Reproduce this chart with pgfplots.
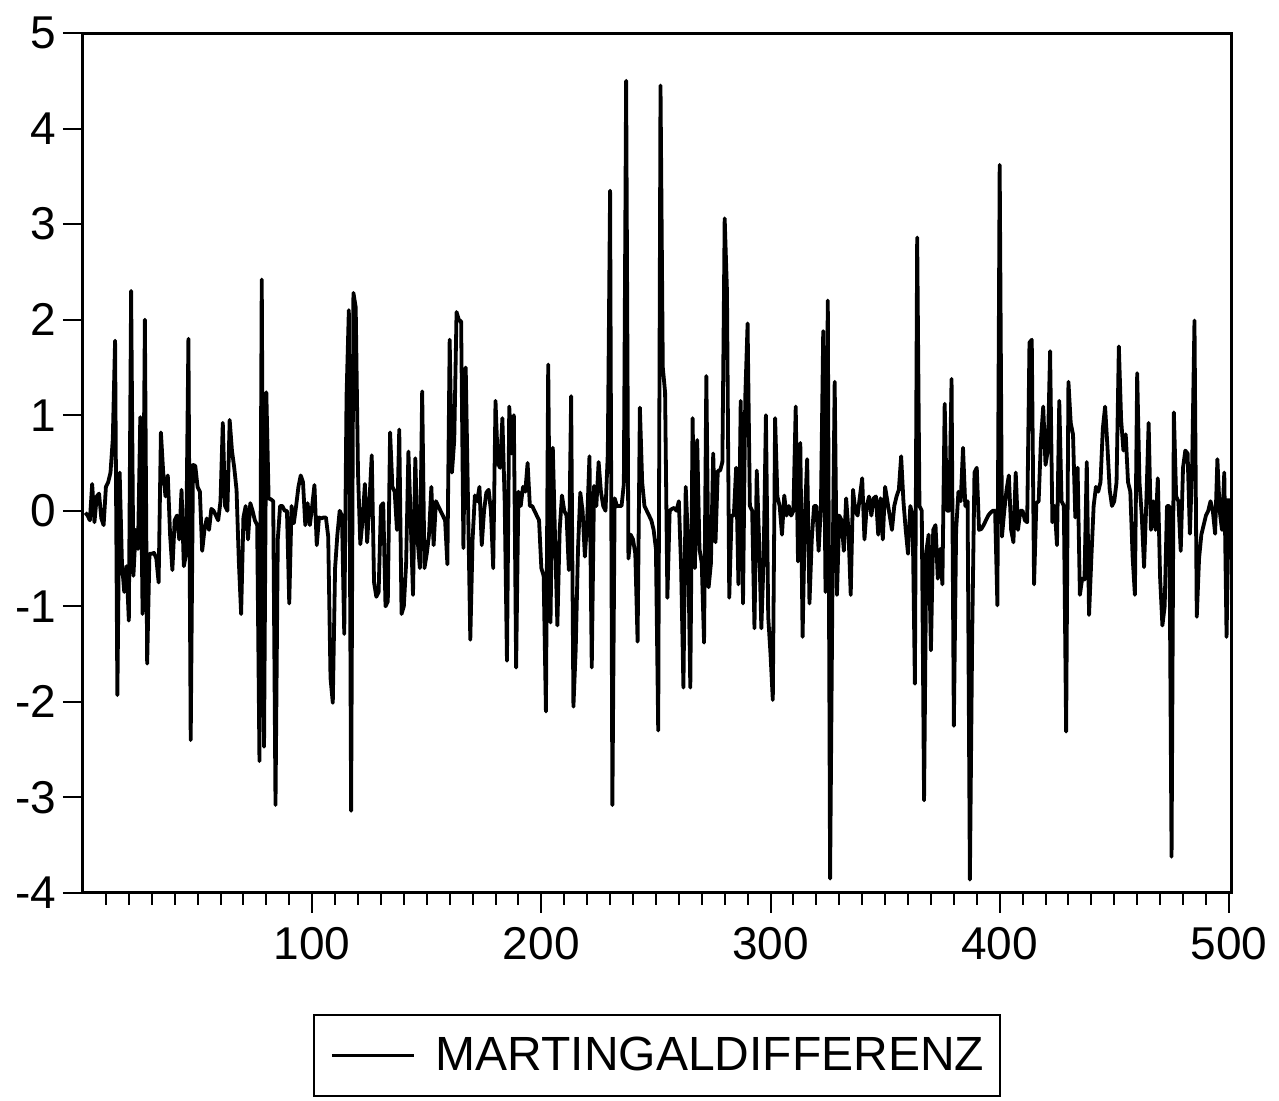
\documentclass[border=0pt]{standalone}
\usepackage{pgfplots}
\pgfplotsset{compat=1.18}
\usepackage{fontspec}
\setmainfont{Liberation Sans}
\begin{document}
\begin{tikzpicture}
\begin{axis}[
  name=ax, at={(0pt,0pt)}, anchor=south west,
  scale only axis, width=574.3pt, height=430pt,
  xmin=0, xmax=501.2, ymin=-4, ymax=5,
  axis line style={line width=1.5pt},
  xtick={100,200,300,400,500}, xticklabels={100,200,300,400,500},
  minor xtick={10,20,...,490},
  ytick={-4,-3,-2,-1,0,1,2,3,4,5}, yticklabels={-4,-3,-2,-1,0,1,2,3,4,5},
  xtick pos=bottom, ytick pos=left, tick align=outside,
  major tick length=10pt, minor tick length=6pt,
  every tick/.style={black, line width=1pt},
  tick label style={font=\fontsize{23}{27}\selectfont},
  xticklabel style={yshift=-3.5pt},
  legend style={at={(0.5,-0.189)}, anchor=center, draw=black, line width=1pt,
    font=\fontsize{24}{28}\selectfont, inner xsep=8pt, inner ysep=11pt,
    nodes={inner sep=0pt}},
  legend image code/.code={\draw[line width=1.5pt] (0pt,0pt) -- (41pt,0pt); \path (51pt,0pt);},
]
\addplot[black, line width=1.9pt, line join=round] coordinates {
(1,-0.02)(2,-0.05)(3,-0.1)(4,0.28)(5,-0.12)(6,0.15)(7,0.18)(8,-0.08)(9,-0.15)(10,0.25)
(11,0.3)(12,0.4)(13,0.75)(14,1.78)(15,-1.93)(16,0.4)(17,-0.55)(18,-0.85)(19,-0.58)(20,-1.15)
(21,2.3)(22,-0.68)(23,-0.2)(24,-0.4)(25,0.98)(26,-1.08)(27,2.0)(28,-1.6)(29,-0.45)(30,-0.45)
(31,-0.44)(32,-0.5)(33,-0.75)(34,0.82)(35,0.4)(36,0.15)(37,0.37)(38,-0.25)(39,-0.62)(40,-0.1)
(41,-0.05)(42,-0.3)(43,0.22)(44,-0.58)(45,-0.45)(46,1.8)(47,-2.4)(48,0.48)(49,0.47)(50,0.25)
(51,0.2)(52,-0.42)(53,-0.2)(54,-0.08)(55,-0.2)(56,0.02)(57,0.0)(58,-0.05)(59,-0.1)(60,0.1)
(61,0.92)(62,0.05)(63,0.0)(64,0.95)(65,0.63)(66,0.45)(67,0.22)(68,-0.53)(69,-1.08)(70,-0.07)
(71,0.05)(72,-0.3)(73,0.08)(74,0.0)(75,-0.1)(76,-0.15)(77,-2.62)(78,2.42)(79,-2.47)(80,1.24)
(81,0.13)(82,0.12)(83,0.1)(84,-3.08)(85,-0.3)(86,0.05)(87,0.05)(88,0.0)(89,0.0)(90,-0.97)
(91,0.05)(92,-0.13)(93,0.05)(94,0.25)(95,0.37)(96,0.3)(97,-0.15)(98,0.08)(99,-0.15)(100,0.05)
(101,0.27)(102,-0.36)(103,-0.07)(104,-0.08)(105,-0.07)(106,-0.07)(107,-0.27)(108,-1.75)(109,-2.01)(110,-0.6)
(111,-0.25)(112,0.0)(113,-0.05)(114,-1.29)(115,1.2)(116,2.1)(117,-3.14)(118,2.28)(119,2.13)(120,0.4)
(121,-0.35)(122,-0.1)(123,0.28)(124,-0.33)(125,0.1)(126,0.58)(127,-0.75)(128,-0.9)(129,-0.85)(130,0.05)
(131,0.08)(132,-1.0)(133,-0.95)(134,0.82)(135,0.25)(136,0.2)(137,-0.2)(138,0.85)(139,-1.08)(140,-1.0)
(141,-0.55)(142,0.62)(143,-0.1)(144,-0.88)(145,0.55)(146,-0.3)(147,-0.6)(148,1.25)(149,-0.6)(150,-0.45)
(151,-0.25)(152,0.25)(153,-0.36)(154,0.1)(155,0.05)(156,0.0)(157,-0.05)(158,-0.1)(159,-0.56)(160,1.79)
(161,0.4)(162,0.74)(163,2.08)(164,2.0)(165,1.98)(166,-0.39)(167,1.5)(168,0.1)(169,-1.35)(170,-0.3)
(171,0.16)(172,0.1)(173,0.25)(174,-0.36)(175,0.0)(176,0.19)(177,0.22)(178,0.0)(179,-0.6)(180,1.15)
(181,0.5)(182,0.45)(183,0.97)(184,0.1)(185,-1.57)(186,1.09)(187,0.6)(188,1.0)(189,-1.64)(190,0.2)
(191,0.05)(192,0.25)(193,0.2)(194,0.5)(195,0.05)(196,0.05)(197,0.0)(198,-0.05)(199,-0.1)(200,-0.6)
(201,-0.68)(202,-2.1)(203,1.53)(204,-1.17)(205,0.66)(206,-0.3)(207,-1.2)(208,-0.2)(209,0.16)(210,0.0)
(211,-0.05)(212,-0.62)(213,1.2)(214,-2.05)(215,-1.45)(216,-0.4)(217,0.19)(218,0.0)(219,-0.48)(220,-0.1)
(221,0.57)(222,-1.64)(223,0.26)(224,0.05)(225,0.51)(226,0.2)(227,0.05)(228,0.0)(229,0.6)(230,3.35)
(231,-3.08)(232,0.13)(233,0.05)(234,0.05)(235,0.05)(236,0.28)(237,4.5)(238,-0.5)(239,-0.25)(240,-0.3)
(241,-0.45)(242,-1.37)(243,1.08)(244,0.3)(245,0.05)(246,0.0)(247,-0.05)(248,-0.1)(249,-0.2)(250,-0.4)
(251,-2.3)(252,4.45)(253,1.5)(254,1.24)(255,-0.91)(256,0.0)(257,0.02)(258,0.03)(259,0.0)(260,0.1)
(261,-0.6)(262,-1.85)(263,0.25)(264,-0.3)(265,-1.85)(266,0.97)(267,-0.6)(268,0.74)(269,-0.4)(270,-0.55)
(271,-1.38)(272,1.41)(273,-0.8)(274,-0.55)(275,0.6)(276,-0.33)(277,0.42)(278,0.42)(279,0.51)(280,3.06)
(281,2.3)(282,-0.91)(283,-0.05)(284,-0.05)(285,0.45)(286,-0.77)(287,1.15)(288,-0.97)(289,1.2)(290,1.96)
(291,0.05)(292,0.0)(293,-1.23)(294,0.42)(295,-0.3)(296,-1.23)(297,-0.5)(298,1.0)(299,-1.11)(300,-1.5)
(301,-1.98)(302,0.97)(303,0.15)(304,0.05)(305,-0.25)(306,0.16)(307,-0.05)(308,0.05)(309,-0.05)(310,0.0)
(311,1.09)(312,-0.53)(313,0.71)(314,-1.32)(315,-0.05)(316,0.54)(317,-0.97)(318,-0.3)(319,0.05)(320,0.05)
(321,-0.42)(322,0.05)(323,1.88)(324,-0.85)(325,2.2)(326,-3.85)(327,-0.85)(328,1.35)(329,-0.88)(330,-0.05)
(331,-0.1)(332,-0.42)(333,0.13)(334,-0.2)(335,-0.88)(336,0.22)(337,0.0)(338,-0.05)(339,0.15)(340,0.34)
(341,-0.3)(342,0.05)(343,0.15)(344,-0.05)(345,0.13)(346,0.15)(347,-0.25)(348,0.13)(349,-0.3)(350,0.25)
(351,0.1)(352,-0.05)(353,-0.2)(354,0.05)(355,0.15)(356,0.22)(357,0.57)(358,0.1)(359,-0.2)(360,-0.45)
(361,0.05)(362,-0.05)(363,-1.81)(364,2.86)(365,0.05)(366,0.0)(367,-3.03)(368,-0.42)(369,-0.25)(370,-1.46)
(371,-0.2)(372,-0.15)(373,-0.71)(374,-0.4)(375,-0.77)(376,1.12)(377,0.0)(378,0.0)(379,1.38)(380,-2.25)
(381,-0.2)(382,0.2)(383,0.1)(384,0.66)(385,0.05)(386,0.1)(387,-3.86)(388,-1.3)(389,0.4)(390,0.45)
(391,-0.2)(392,-0.19)(393,-0.15)(394,-0.1)(395,-0.05)(396,-0.02)(397,0.0)(398,0.0)(399,-0.99)(400,3.62)
(401,-0.27)(402,0.0)(403,0.22)(404,0.37)(405,-0.2)(406,-0.33)(407,0.4)(408,-0.2)(409,0.0)(410,0.0)
(411,-0.1)(412,-0.12)(413,1.76)(414,1.79)(415,-0.77)(416,0.08)(417,0.1)(418,0.74)(419,1.09)(420,0.48)
(421,0.63)(422,1.67)(423,-0.12)(424,0.05)(425,-0.36)(426,1.15)(427,0.1)(428,0.05)(429,-2.31)(430,1.35)
(431,0.92)(432,0.8)(433,-0.07)(434,0.45)(435,-0.88)(436,-0.71)(437,-0.72)(438,0.51)(439,-1.09)(440,-0.5)
(441,0.05)(442,0.25)(443,0.2)(444,0.3)(445,0.86)(446,1.09)(447,0.68)(448,0.22)(449,0.05)(450,0.1)
(451,0.3)(452,1.72)(453,0.95)(454,0.63)(455,0.8)(456,0.3)(457,0.2)(458,-0.48)(459,-0.88)(460,1.44)
(461,0.3)(462,-0.05)(463,-0.59)(464,0.1)(465,0.92)(466,-0.2)(467,0.1)(468,-0.2)(469,0.34)(470,-0.7)
(471,-1.2)(472,-1.0)(473,0.05)(474,0.05)(475,-3.62)(476,1.03)(477,0.15)(478,0.1)(479,-0.42)(480,0.45)
(481,0.63)(482,0.6)(483,-0.24)(484,0.5)(485,1.99)(486,-1.11)(487,-0.5)(488,-0.25)(489,-0.15)(490,-0.05)
(491,0.0)(492,0.1)(493,0.0)(494,-0.24)(495,0.54)(496,0.0)(497,-0.2)(498,0.4)(499,-1.32)(500,0.13)
};
\addlegendentry{MARTINGALDIFFERENZ}
\end{axis}
\pgfresetboundingbox
\path (-41.5pt,-104pt) rectangle (598pt,446.5pt);
\end{tikzpicture}
\end{document}
